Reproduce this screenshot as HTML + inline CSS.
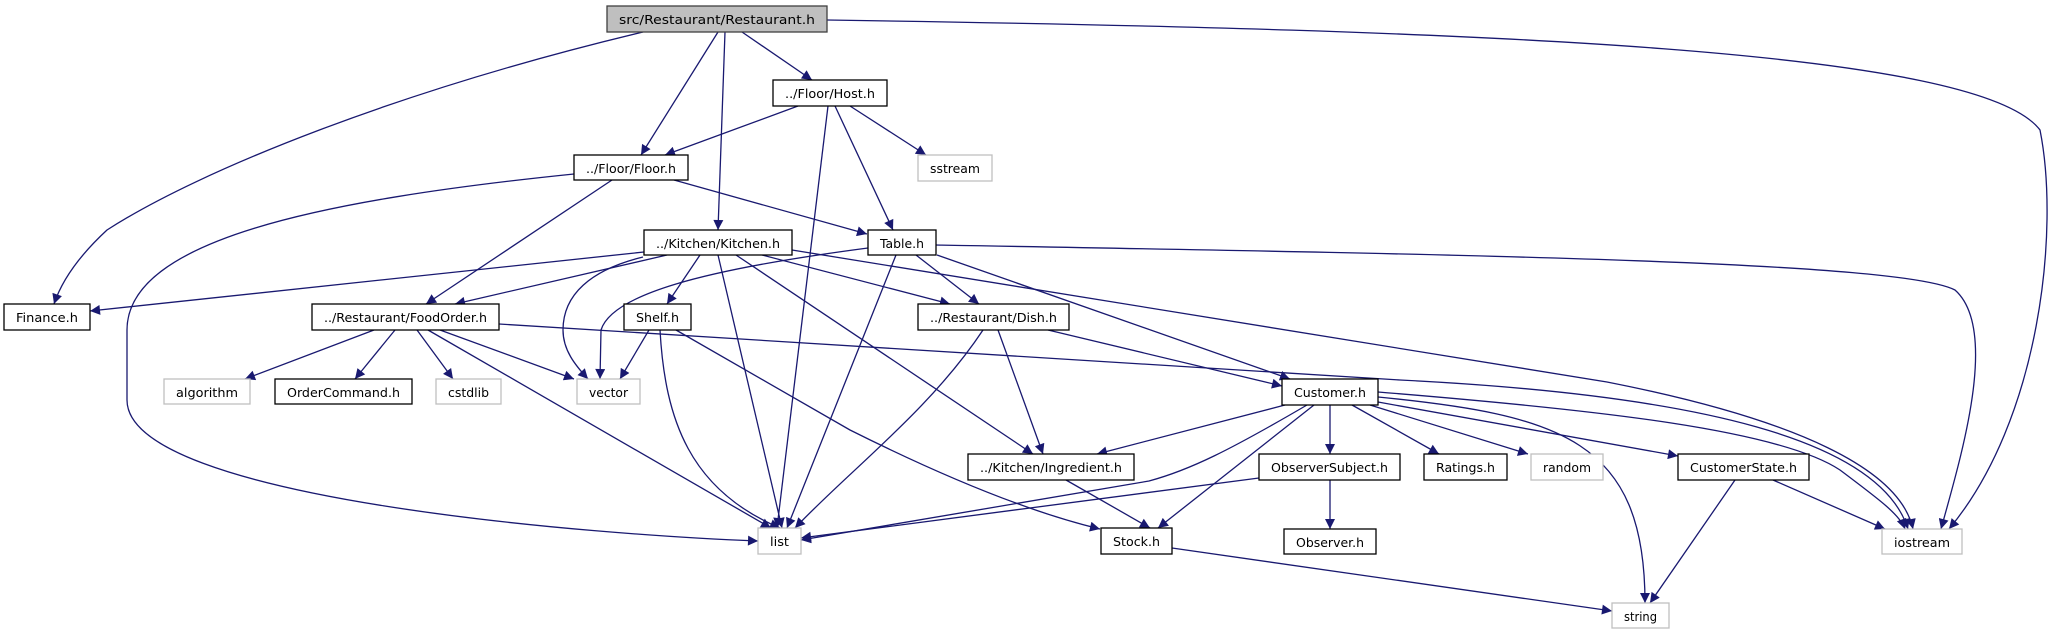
<!DOCTYPE html>
<html><head><meta charset="utf-8"><style>
html,body{margin:0;padding:0;background:#fff;}
svg{display:block;}
text{font-family:"DejaVu Sans","Liberation Sans",sans-serif;font-size:12.5px;fill:#000;}
.e{fill:none;stroke:#191970;stroke-width:1.3;marker-end:url(#a);}
.n{fill:#fff;stroke:#000;stroke-width:1.3;}
.g{fill:#fff;stroke:#bfbfbf;stroke-width:1.3;}
</style></head><body>
<svg width="2054" height="635" viewBox="0 0 2054 635" xmlns="http://www.w3.org/2000/svg">
<defs><marker id="a" viewBox="0 0 10 10" refX="10" refY="5" markerWidth="11" markerHeight="10" markerUnits="userSpaceOnUse" orient="auto"><path d="M0,0L10,5L0,10z" fill="#191970"/></marker></defs>
<!-- edges -->
<path class="e" d="M643,32 C400,90 200,170 107,230 C80,255 62,280 54,304"/>
<path class="e" d="M718,32 L641,155"/>
<path class="e" d="M725,32 L718,230"/>
<path class="e" d="M742,32 L812,80"/>
<path class="e" d="M827,20 C1500,30 1980,50 2040,130 C2060,230 2040,420 1949,529"/>
<path class="e" d="M798,106 L665,155"/>
<path class="e" d="M828,106 L777,528"/>
<path class="e" d="M835,106 L893,230"/>
<path class="e" d="M850,106 L926,155"/>
<path class="e" d="M574,174 C320,200 127,240 127,330 L127,400 C127,500 600,535 758,541"/>
<path class="e" d="M612,180 L426,304"/>
<path class="e" d="M674,180 L867,234"/>
<path class="e" d="M644,252 L90,311"/>
<path class="e" d="M667,255 L455,304"/>
<path class="e" d="M643,257 C590,270 563,295 563,330 C563,350 575,365 588,379"/>
<path class="e" d="M868,248 C700,270 612,295 601,330 L600,379"/>
<path class="e" d="M700,255 L667,304"/>
<path class="e" d="M718,255 L782,528"/>
<path class="e" d="M736,255 L1033,454"/>
<path class="e" d="M762,255 L950,304"/>
<path class="e" d="M792,250 L1607,382 C1800,420 1900,470 1913,529"/>
<path class="e" d="M936,245 C1500,255 1900,262 1955,290 C2000,330 1960,460 1941,529"/>
<path class="e" d="M896,255 L787,528"/>
<path class="e" d="M916,255 L979,304"/>
<path class="e" d="M937,255 L1290,379"/>
<path class="e" d="M1048,330 L1282,386"/>
<path class="e" d="M983,330 C930,410 850,470 795,528"/>
<path class="e" d="M998,330 L1043,454"/>
<path class="e" d="M374,330 L245,379"/>
<path class="e" d="M395,330 L355,379"/>
<path class="e" d="M417,330 L453,379"/>
<path class="e" d="M440,330 L574,379"/>
<path class="e" d="M428,330 L771,528"/>
<path class="e" d="M499,324 L1400,380 C1700,395 1880,440 1908,529"/>
<path class="e" d="M649,330 L620,379"/>
<path class="e" d="M660,330 C665,420 690,490 780,528"/>
<path class="e" d="M676,330 L850,430 Q1000,505 1100,529"/>
<path class="e" d="M1285,405 L1097,454"/>
<path class="e" d="M1307,405 C1230,450 1190,470 1149,481 L801,540"/>
<path class="e" d="M1314,405 L1158,528"/>
<path class="e" d="M1330,405 L1330,454"/>
<path class="e" d="M1352,405 L1439,454"/>
<path class="e" d="M1370,405 L1528,454"/>
<path class="e" d="M1378,402 L1678,456"/>
<path class="e" d="M1378,397 C1560,415 1645,440 1645,603"/>
<path class="e" d="M1378,392 C1600,410 1780,430 1840,470 C1880,500 1900,515 1905,529"/>
<path class="e" d="M1330,480 L1330,529"/>
<path class="e" d="M1259,478 L801,538"/>
<path class="e" d="M1066,480 L1150,528"/>
<path class="e" d="M1172,548 L1612,611"/>
<path class="e" d="M1735,480 L1650,603"/>
<path class="e" d="M1773,480 L1885,529"/>
<!-- nodes -->
<rect x="607" y="6" width="220" height="26" fill="#bfbfbf" stroke="#404040" stroke-width="1.3"/><text x="717" y="24" text-anchor="middle" textLength="196" lengthAdjust="spacingAndGlyphs">src/Restaurant/Restaurant.h</text>
<rect class="n" x="773" y="80" width="114" height="26"/><text x="830" y="98" text-anchor="middle" textLength="90" lengthAdjust="spacingAndGlyphs">../Floor/Host.h</text>
<rect class="g" x="918" y="155" width="74" height="26"/><text x="955" y="173" text-anchor="middle" textLength="50" lengthAdjust="spacingAndGlyphs">sstream</text>
<rect class="n" x="574" y="155" width="114" height="25"/><text x="631" y="173" text-anchor="middle" textLength="90" lengthAdjust="spacingAndGlyphs">../Floor/Floor.h</text>
<rect class="n" x="644" y="230" width="148" height="25"/><text x="718" y="248" text-anchor="middle" textLength="124" lengthAdjust="spacingAndGlyphs">../Kitchen/Kitchen.h</text>
<rect class="n" x="868" y="230" width="68" height="25"/><text x="902" y="248" text-anchor="middle" textLength="44" lengthAdjust="spacingAndGlyphs">Table.h</text>
<rect class="n" x="4" y="304" width="86" height="26"/><text x="47" y="322" text-anchor="middle" textLength="62" lengthAdjust="spacingAndGlyphs">Finance.h</text>
<rect class="n" x="312" y="304" width="187" height="26"/><text x="405.5" y="322" text-anchor="middle" textLength="163" lengthAdjust="spacingAndGlyphs">../Restaurant/FoodOrder.h</text>
<rect class="n" x="624" y="304" width="67" height="26"/><text x="657.5" y="322" text-anchor="middle" textLength="43" lengthAdjust="spacingAndGlyphs">Shelf.h</text>
<rect class="n" x="918" y="304" width="151" height="26"/><text x="993.5" y="322" text-anchor="middle" textLength="127" lengthAdjust="spacingAndGlyphs">../Restaurant/Dish.h</text>
<rect class="g" x="164" y="379" width="86" height="25"/><text x="207" y="397" text-anchor="middle" textLength="62" lengthAdjust="spacingAndGlyphs">algorithm</text>
<rect class="n" x="275" y="379" width="137" height="25"/><text x="343.5" y="397" text-anchor="middle" textLength="113" lengthAdjust="spacingAndGlyphs">OrderCommand.h</text>
<rect class="g" x="436" y="379" width="65" height="25"/><text x="468.5" y="397" text-anchor="middle" textLength="41" lengthAdjust="spacingAndGlyphs">cstdlib</text>
<rect class="g" x="577" y="379" width="63" height="25"/><text x="608.5" y="397" text-anchor="middle" textLength="39" lengthAdjust="spacingAndGlyphs">vector</text>
<rect class="n" x="1282" y="379" width="96" height="26"/><text x="1330" y="397" text-anchor="middle" textLength="72" lengthAdjust="spacingAndGlyphs">Customer.h</text>
<rect class="n" x="968" y="454" width="166" height="26"/><text x="1051" y="472" text-anchor="middle" textLength="142" lengthAdjust="spacingAndGlyphs">../Kitchen/Ingredient.h</text>
<rect class="n" x="1259" y="454" width="141" height="26"/><text x="1329.5" y="472" text-anchor="middle" textLength="117" lengthAdjust="spacingAndGlyphs">ObserverSubject.h</text>
<rect class="n" x="1424" y="454" width="83" height="26"/><text x="1465.5" y="472" text-anchor="middle" textLength="59" lengthAdjust="spacingAndGlyphs">Ratings.h</text>
<rect class="g" x="1531" y="454" width="72" height="26"/><text x="1567" y="472" text-anchor="middle" textLength="48" lengthAdjust="spacingAndGlyphs">random</text>
<rect class="n" x="1678" y="454" width="131" height="26"/><text x="1743.5" y="472" text-anchor="middle" textLength="107" lengthAdjust="spacingAndGlyphs">CustomerState.h</text>
<rect class="n" x="1284" y="529" width="92" height="25"/><text x="1330" y="547" text-anchor="middle" textLength="68" lengthAdjust="spacingAndGlyphs">Observer.h</text>
<rect class="g" x="758" y="528" width="43" height="26"/><text x="779.5" y="546" text-anchor="middle" textLength="19" lengthAdjust="spacingAndGlyphs">list</text>
<rect class="n" x="1101" y="528" width="71" height="26"/><text x="1136.5" y="546" text-anchor="middle" textLength="47" lengthAdjust="spacingAndGlyphs">Stock.h</text>
<rect class="g" x="1882" y="529" width="80" height="25"/><text x="1922" y="547" text-anchor="middle" textLength="56" lengthAdjust="spacingAndGlyphs">iostream</text>
<rect class="g" x="1612" y="603" width="57" height="25"/><text x="1640.5" y="621" text-anchor="middle" textLength="33" lengthAdjust="spacingAndGlyphs">string</text>
</svg>
</body></html>
